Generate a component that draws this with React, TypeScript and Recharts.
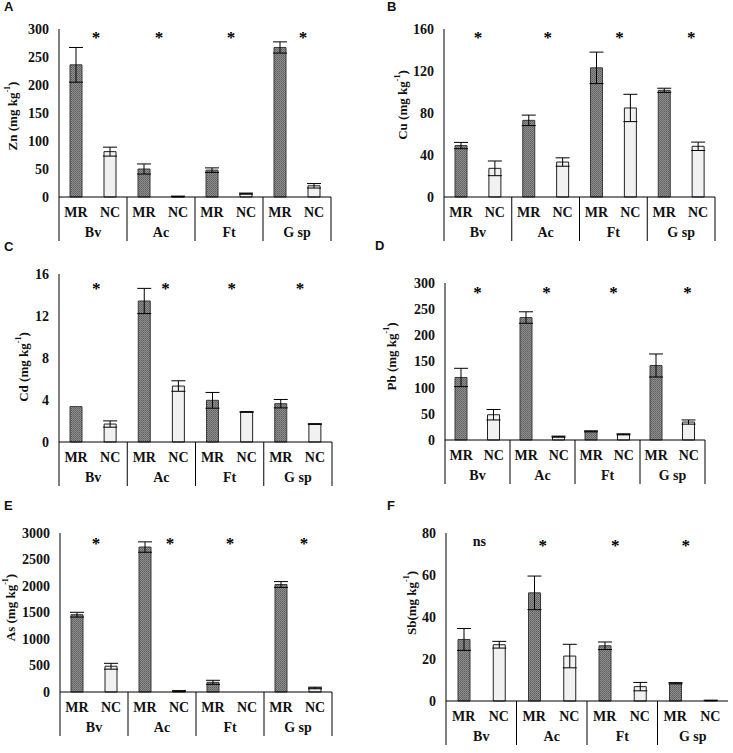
import React from 'react';
import { BarChart, Bar, XAxis, YAxis, ErrorBar, Cell } from 'recharts';

const categories = ['Bv', 'Ac', 'Ft', 'G sp'];
const groups = ['MR', 'NC'];

// Zn
const znMR = [236, 50, 48, 267];
const znMRErr = [31, 9, 4, 10];
const znNC = [81, 1, 6, 20];
const znNCErr = [8, 0.5, 1, 4];
const znSig = ['*', '*', '*', '*'];
const znTicks = [0, 50, 100, 150, 200, 250, 300];

// Cu
const cuMR = [49, 73, 123, 101.6];
const cuMRErr = [3, 5, 15, 2];
const cuNC = [27.3, 33.3, 84.8, 48.3];
const cuNCErr = [7, 4, 13, 4];
const cuSig = ['*', '*', '*', '*'];
const cuTicks = [0, 40, 80, 120, 160];

// Cd
const cdMR = [3.37, 13.43, 3.97, 3.65];
const cdMRErr = [0, 1.2, 0.75, 0.4];
const cdNC = [1.71, 5.33, 2.86, 1.71];
const cdNCErr = [0.3, 0.5, 0.03, 0.03];
const cdSig = ['*', '*', '*', '*'];
const cdTicks = [0, 4, 8, 12, 16];

// Pb
const pbMR = [119.5, 234, 16.5, 142.4];
const pbMRErr = [17.5, 11, 1, 22];
const pbNC = [48.3, 6.4, 10.8, 34.3];
const pbNCErr = [10, 1, 1, 4];
const pbSig = ['*', '*', '*', '*'];
const pbTicks = [0, 50, 100, 150, 200, 250, 300];

// As
const asMR = [1459, 2735, 183, 2028];
const asMRErr = [45, 98, 38, 55];
const asNC = [486, 19, 0, 76];
const asNCErr = [55, 5, 0, 15];
const asSig = ['*', '*', '*', '*'];
const asTicks = [0, 500, 1000, 1500, 2000, 2500, 3000];

// Sb
const sbMR = [29.3, 51.5, 26.3, 8.45];
const sbMRErr = [5.2, 8, 1.8, 0.3];
const sbNC = [26.8, 21.4, 6.85, 0.3];
const sbNCErr = [1.6, 5.6, 2, 0.05];
const sbSig = ['ns', '*', '*', '*'];
const sbTicks = [0, 20, 40, 60, 80];

const SERIF = '"Liberation Serif", "Times New Roman", serif';
const SANS = '"Liberation Sans", Arial, sans-serif';

type Row = { key: string; sub: string; cat: string; value: number; err: number };

function buildRows(mr: number[], mrErr: number[], nc: number[], ncErr: number[]): Row[] {
  const rows: Row[] = [];
  categories.forEach((cat, i) => {
    rows.push({ key: `${cat}-${groups[0]}`, sub: groups[0], cat, value: mr[i], err: mrErr[i] });
    rows.push({ key: `${cat}-${groups[1]}`, sub: groups[1], cat, value: nc[i], err: ncErr[i] });
  });
  return rows;
}

type PanelCfg = {
  id: string;
  letter: string;
  letterX: number;
  letterY: number;
  element: string;
  rows: Row[];
  sig: string[];
  sigDx: number[];
  ticks: number[];
  plotLeft: number;
  plotTop: number;
  plotW: number;
  plotH: number;
  sigOffset: number;
  labelOffset: number;
  labelDy: number;
  lastDivider: boolean;
};

const panels: PanelCfg[] = [
  { id: 'a', letter: 'A', letterX: 4, letterY: 12, element: 'Zn (mg kg', rows: buildRows(znMR, znMRErr, znNC, znNCErr), sig: znSig, sigDx: [3, -2, 2, 6], ticks: znTicks, plotLeft: 59, plotTop: 29, plotW: 272, plotH: 168, sigOffset: 5, labelOffset: 47, labelDy: 3, lastDivider: true },
  { id: 'b', letter: 'B', letterX: 387, letterY: 12, element: 'Cu (mg kg', rows: buildRows(cuMR, cuMRErr, cuNC, cuNCErr), sig: cuSig, sigDx: [0, 2, 6, 10], ticks: cuTicks, plotLeft: 444, plotTop: 29, plotW: 271, plotH: 168, sigOffset: 5, labelOffset: 42, labelDy: -8, lastDivider: true },
  { id: 'c', letter: 'C', letterX: 4, letterY: 252, element: 'Cd (mg kg', rows: buildRows(cdMR, cdMRErr, cdNC, cdNCErr), sig: cdSig, sigDx: [3, 4, 2, 2], ticks: cdTicks, plotLeft: 59, plotTop: 274, plotW: 273, plotH: 168, sigOffset: 11, labelOffset: 36, labelDy: 9, lastDivider: true },
  { id: 'd', letter: 'D', letterX: 375, letterY: 251, element: 'Pb (mg kg', rows: buildRows(pbMR, pbMRErr, pbNC, pbNCErr), sig: pbSig, sigDx: [0, 4, 6, 15], ticks: pbTicks, plotLeft: 445, plotTop: 283, plotW: 260, plotH: 157, sigOffset: 6, labelOffset: 54, labelDy: -5, lastDivider: true },
  { id: 'e', letter: 'E', letterX: 4, letterY: 511, element: 'As (mg kg', rows: buildRows(asMR, asMRErr, asNC, asNCErr), sig: asSig, sigDx: [2, 8, 0, 6], ticks: asTicks, plotLeft: 60, plotTop: 533, plotW: 272, plotH: 159, sigOffset: 7, labelOffset: 50, labelDy: -5, lastDivider: true },
  { id: 'f', letter: 'F', letterX: 387, letterY: 511, element: 'Sb(mg kg', rows: buildRows(sbMR, sbMRErr, sbNC, sbNCErr), sig: sbSig, sigDx: [-2, -9, -7, -7], ticks: sbTicks, plotLeft: 446, plotTop: 533, plotW: 282, plotH: 168, sigOffset: 8.5, labelOffset: 35, labelDy: -14, lastDivider: false },
];

const Y_AXIS_W = 80;
const TOP_M = 10;
const RIGHT_M = 5;
const X_AXIS_H = 50;
const FS = 14;

function makeTick(cfg: PanelCfg) {
  const slot = cfg.plotW / cfg.rows.length;
  return (props: any) => {
    const { x, y, index } = props;
    const row = cfg.rows[index];
    if (!row) return <g />;
    const isFirst = row.sub === groups[0];
    const catIdx = categories.indexOf(row.cat);
    const isLast = index === cfg.rows.length - 1;
    const catCenter = x + slot / 2;
    const sig = cfg.sig[catIdx];
    const sigX = catCenter + (cfg.sigDx[catIdx] || 0);
    const sigY = y - cfg.plotH + cfg.sigOffset;
    return (
      <g>
        <text x={x} y={y + 20} textAnchor="middle" fontFamily={SERIF} fontWeight="bold" fontSize={FS} fill="#111">
          {row.sub}
        </text>
        {isFirst && (
          <line x1={x - slot / 2} x2={x - slot / 2} y1={y} y2={y + 44} stroke="#000" strokeWidth={1} />
        )}
        {isLast && cfg.lastDivider && (
          <line x1={x + slot / 2} x2={x + slot / 2} y1={y} y2={y + 44} stroke="#000" strokeWidth={1} />
        )}
        {isFirst && (
          <text x={catCenter} y={y + 40} textAnchor="middle" fontFamily={SERIF} fontWeight="bold" fontSize={FS} fill="#111">
            {row.cat}
          </text>
        )}
        {isFirst && sig === '*' && (
          <text x={sigX} y={sigY + 9} textAnchor="middle" fontFamily={SERIF} fontWeight="bold" fontSize={17} fill="#000">
            *
          </text>
        )}
        {isFirst && sig !== '*' && (
          <text x={sigX} y={sigY + 4} textAnchor="middle" fontFamily={SERIF} fontWeight="bold" fontSize={FS} fill="#111">
            {sig}
          </text>
        )}
      </g>
    );
  };
}

function makeYLabel(cfg: PanelCfg) {
  return (props: any) => {
    const vb = props.viewBox || {};
    const axisX = (vb.x ?? 0) + (vb.width ?? 0);
    const cx = axisX - cfg.labelOffset;
    const cy = (vb.y ?? 0) + (vb.height ?? 0) / 2 + cfg.labelDy;
    return (
      <text
        transform={`translate(${cx},${cy}) rotate(-90)`}
        textAnchor="middle"
        dominantBaseline="central"
        fontFamily={SERIF}
        fontWeight="bold"
        fontSize={13}
        fill="#111"
      >
        {cfg.element}
        <tspan dy={-5} fontSize={8}>-1</tspan>
        <tspan dy={5}>)</tspan>
      </text>
    );
  };
}

function Panel({ cfg }: { cfg: PanelCfg }) {
  const width = Y_AXIS_W + cfg.plotW + RIGHT_M;
  const height = TOP_M + cfg.plotH + X_AXIS_H;
  const max = cfg.ticks[cfg.ticks.length - 1];
  const mrFill = `url(#mr-${cfg.id})`;
  return (
    <>
      <div
        style={{
          position: 'absolute',
          left: cfg.letterX,
          top: cfg.letterY - 12,
          fontFamily: SANS,
          fontWeight: 'bold',
          fontSize: 13,
          lineHeight: '14px',
          color: '#111',
        }}
      >
        {cfg.letter}
      </div>
      <div style={{ position: 'absolute', left: cfg.plotLeft - Y_AXIS_W, top: cfg.plotTop - TOP_M }}>
        <BarChart
          width={width}
          height={height}
          data={cfg.rows}
          margin={{ top: TOP_M, right: RIGHT_M, left: 0, bottom: 0 }}
        >
          <defs>
            <pattern id={`mr-${cfg.id}`} width={2} height={2} patternUnits="userSpaceOnUse">
              <rect x={0} y={0} width={2} height={2} fill="#8e8e8e" />
              <rect x={0} y={0} width={1} height={1} fill="#5e5e5e" />
              <rect x={1} y={1} width={1} height={1} fill="#6e6e6e" />
            </pattern>
          </defs>
          <XAxis
            dataKey="key"
            interval={0}
            height={X_AXIS_H}
            tickLine={false}
            tickSize={0}
            tickMargin={0}
            axisLine={{ stroke: '#000', strokeWidth: 1 }}
            tick={makeTick(cfg)}
          />
          <YAxis
            width={Y_AXIS_W}
            domain={[0, max]}
            ticks={cfg.ticks}
            interval={0}
            tickLine={false}
            tickSize={0}
            tickMargin={10}
            axisLine={{ stroke: '#000', strokeWidth: 1 }}
            tick={{ fontFamily: SERIF, fontWeight: 'bold', fontSize: FS, fill: '#111' }}
            label={{ content: makeYLabel(cfg) }}
          />
          <Bar dataKey="value" barSize={12} isAnimationActive={false} strokeWidth={1}>
            {cfg.rows.map((r) => (
              <Cell
                key={r.key}
                fill={r.sub === groups[0] ? mrFill : '#f1f1f1'}
                stroke={r.sub === groups[0] ? '#3a3a3a' : '#222'}
              />
            ))}
            <ErrorBar dataKey="err" width={7} stroke="#000" strokeWidth={1} />
          </Bar>
        </BarChart>
      </div>
    </>
  );
}

export default function App() {
  return (
    <div style={{ position: 'absolute', left: 0, top: 0, width: 733, height: 753, background: '#fff', overflow: 'hidden' }}>
      {panels.map((p) => (
        <Panel key={p.id} cfg={p} />
      ))}
    </div>
  );
}
